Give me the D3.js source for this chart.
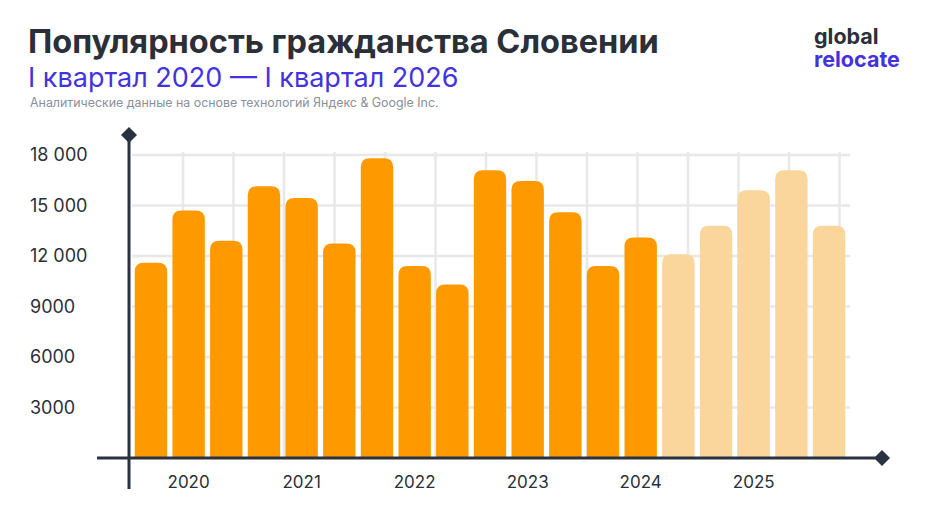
<!DOCTYPE html><html><head><meta charset="utf-8"><script src="https://cdn.jsdelivr.net/npm/d3@7"></script>
<style>body{margin:0;background:#fff}text{font-family:Inter,"Noto Sans",sans-serif}</style></head><body><svg id="c" width="935" height="522"></svg>
<script>
const values=[11600,14700,12900,16150,15450,12750,17800,11400,10300,17100,16450,14600,11400,13100,12100,13800,15900,17100,13800];
const forecastFrom=14;
const yearLabels=["2020","2021","2022","2023","2024","2025"];
const yTicks=[3000,6000,9000,12000,15000,18000];
const svg=d3.select("#c");
const x=d3.scaleBand().domain(d3.range(values.length)).range([134,846]).paddingInner(0.14).paddingOuter(0.02);
const y=d3.scaleLinear().domain([0,18000]).range([458,155]);
const g=svg.append("g");
yTicks.forEach(t=>g.append("line").attr("x1",132).attr("x2",850).attr("y1",y(t)).attr("y2",y(t)).attr("stroke","#e8e8e8").attr("stroke-width",2.5));
d3.range(183,850,50.5).forEach(v=>g.append("line").attr("x1",v).attr("x2",v).attr("y1",152).attr("y2",458).attr("stroke","#e8e8e8").attr("stroke-width",2.5));
const fmt=v=>v>=10000?d3.format(",")(v).replace(",", " "):String(v);
yTicks.forEach(t=>svg.append("text").attr("x",30).attr("y",y(t)+6).attr("font-size",18).attr("fill","#2a2f38").text(fmt(t)));
const r=9;
svg.append("g").selectAll("path").data(values).join("path")
 .attr("fill",(d,i)=>i<forecastFrom?"#ff9900":"#fad59c")
 .attr("d",(d,i)=>{const x0=x(i),w=x.bandwidth(),y0=y(d),yb=y(0);
  return `M${x0},${yb}V${y0+r}Q${x0},${y0} ${x0+r},${y0}H${x0+w-r}Q${x0+w},${y0} ${x0+w},${y0+r}V${yb}Z`;});
yearLabels.forEach((l,k)=>svg.append("text").attr("x",x(3*k+1)+x.bandwidth()/2).attr("y",488).attr("text-anchor","middle").attr("font-size",17).attr("fill","#2a2f38").text(l));
svg.append("line").attr("x1",97).attr("x2",880).attr("y1",458).attr("y2",458).attr("stroke","#2a3140").attr("stroke-width",3);
svg.append("line").attr("x1",129).attr("x2",129).attr("y1",136).attr("y2",489).attr("stroke","#2a3140").attr("stroke-width",3);
svg.append("path").attr("d","M129,127 L137,135 L129,143 L121,135Z").attr("fill","#2a3140");
svg.append("path").attr("d","M882,450 L890,458 L882,466 L874,458Z").attr("fill","#2a3140");
svg.append("text").attr("x",28).attr("y",53).attr("font-size",32.5).attr("font-weight",700).attr("fill","#2a2f38").text("Популярность гражданства Словении");
svg.append("text").attr("x",28).attr("y",87).attr("font-size",27).attr("fill","#4433dd").text("I квартал 2020 — I квартал 2026");
svg.append("text").attr("x",30).attr("y",107).attr("font-size",12.4).attr("fill","#8a8f98").text("Аналитические данные на основе технологий Яндекс & Google Inc.");
svg.append("text").attr("x",814).attr("y",44).attr("font-size",21.5).attr("font-weight",700).attr("fill","#2a2f38").text("global");
svg.append("text").attr("x",814).attr("y",67).attr("font-size",21.5).attr("font-weight",700).attr("fill","#4433dd").text("relocate");
</script></body></html>
